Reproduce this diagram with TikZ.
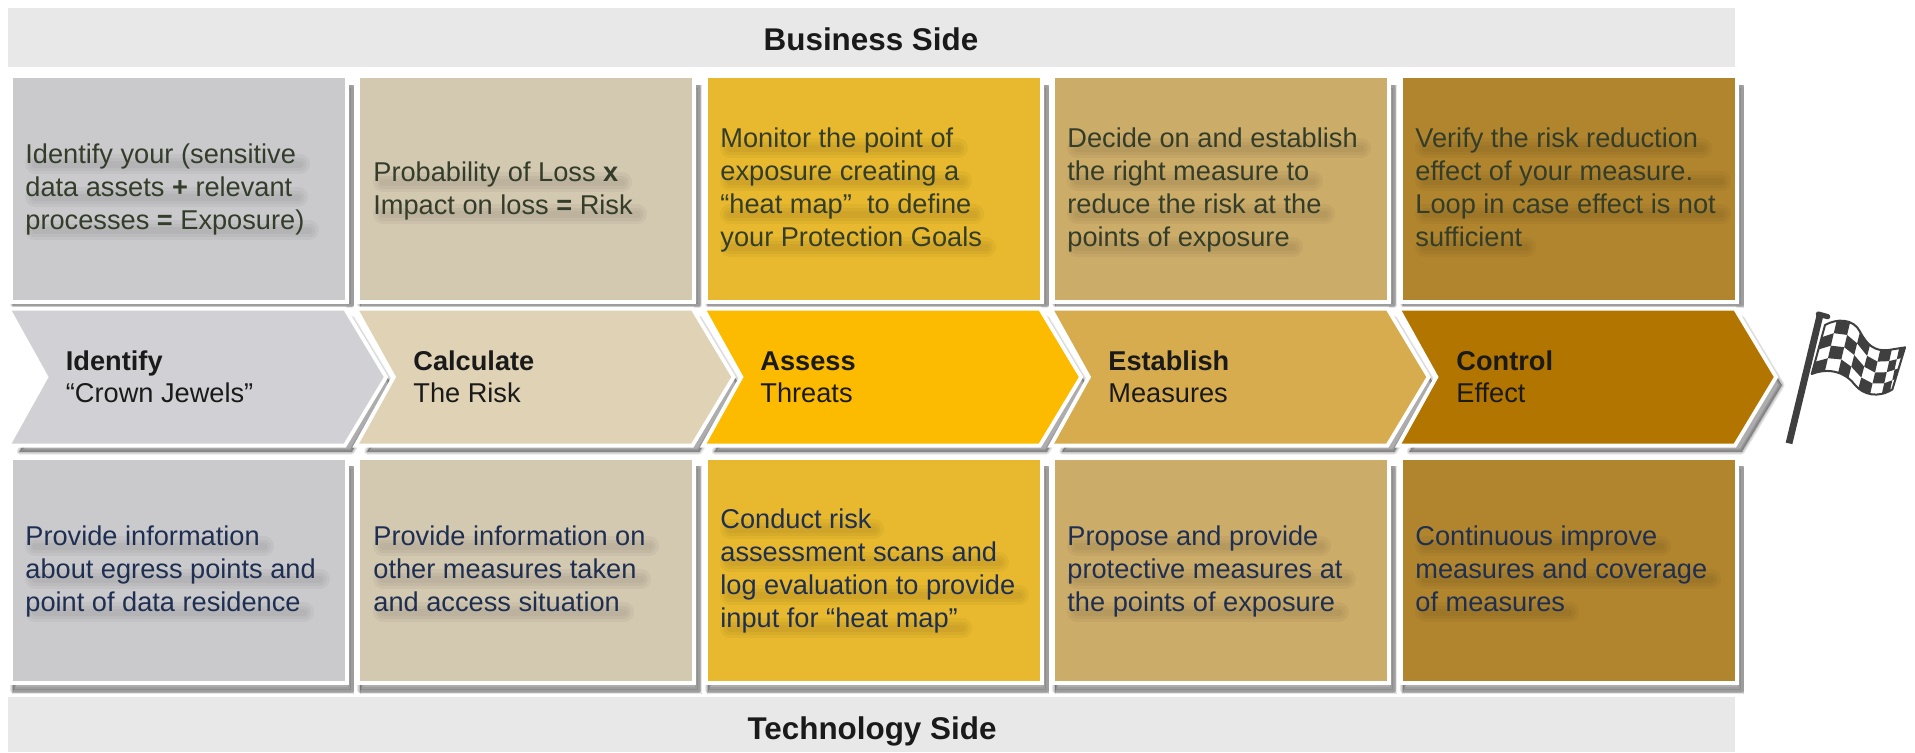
\documentclass[tikz,border=0pt]{standalone}
\usepackage{fontspec}
\setmainfont{Liberation Sans}
\definecolor{bandc}{HTML}{E8E8E8}
\definecolor{topink}{HTML}{333D2A}
\definecolor{botink}{HTML}{1F2F52}
\definecolor{arrink}{HTML}{1A1A1A}
\definecolor{flagc}{HTML}{3F3F3F}
\definecolor{ba}{HTML}{CACACD}\definecolor{bb}{HTML}{D3C8B0}\definecolor{bc}{HTML}{E8B92E}\definecolor{bd}{HTML}{CCAC69}\definecolor{be}{HTML}{B1852E}
\definecolor{aa}{HTML}{D1D1D5}\definecolor{ab}{HTML}{E0D2B4}\definecolor{ac}{HTML}{FDBB00}\definecolor{ad}{HTML}{D6AC4F}\definecolor{ae}{HTML}{B27500}
\tikzset{
  band/.style={fill=bandc,draw=none,inner sep=0,minimum width=863.5pt},
  bandtext/.style={anchor=base,inner sep=0,text=arrink,font=\fontsize{15.7}{18}\selectfont\bfseries},
  cell/.style={draw=white,line width=2pt,inner sep=0,minimum width=168.1pt,minimum height=112.8pt,anchor=north west},
  toptext/.style={anchor=north west,inner sep=0,align=left,text=topink,font=\fontsize{13.6}{16.5}\selectfont},
  bottext/.style={anchor=north west,inner sep=0,align=left,text=botink,font=\fontsize{13.6}{16.5}\selectfont},
  arrtext/.style={anchor=north west,inner sep=0,align=left,text=arrink,font=\fontsize{13.6}{16}\selectfont},
  softedge/.style={black,opacity=.09,line join=round}
}
\newcommand{\chevpath}[1]{({#1+1},310.5) -- ({#1+333},310.5) -- ({#1+373},377) -- ({#1+333},443.5) -- ({#1+1},443.5) -- ({#1+38},377) -- cycle}
\begin{document}
\begin{tikzpicture}[x=0.5pt,y=-0.5pt]
\useasboundingbox (0,0) rectangle (1915,752);
\fill[white] (0,0) rectangle (1915,752);
% bands
\node[band,anchor=north west,minimum height=29.5pt] (bandtop) at (8,8) {};
\node[band,anchor=north west,minimum height=27.5pt] (bandbot) at (8,697) {};
% shadows
\foreach \k in {0,1,2,3,4}{
  \pgfmathsetmacro{\xx}{10.7+347.5*\k}
  \foreach \w in {0,2,4,6}{
    \draw[softedge,fill=black,line width=\w*0.5pt]
      ({\xx+2},{85+\w*0.5}) rectangle ({\xx+343-\w*0.5},{299+8-\w*0.5});
    \draw[softedge,fill=black,line width=\w*0.5pt]
      ({\xx+2},{466+\w*0.5}) rectangle ({\xx+343-\w*0.5},{693-\w*0.5});
    \draw[softedge,fill=black,line width=\w*0.5pt,shift={(8,8)}] \chevpath{\xx};
  }
}
% top cells, chevrons, bottom cells
\foreach \k/\bc/\ac in {0/ba/aa,1/bb/ab,2/bc/ac,3/bd/ad,4/be/ae}{
  \pgfmathsetmacro{\xx}{10.7+347.5*\k}
  \node[cell,fill=\bc] (top\k) at ({\xx-2},74) {};
  \draw[white,line width=4pt,line join=miter] \chevpath{\xx};
  \fill[\ac] \chevpath{\xx};
  \node[cell,fill=\bc] (bot\k) at ({\xx-2},455.5) {};
}
% soft text haze
\foreach \x/\y/\l in {
 25/163/271,25/196/269,25/229/280,
 373/181/245,373/213/260,
 720/147/234,720/180/238,720/213/250,720/246/262,
 1067/147/290,1067/180/242,1067/213/254,1067/246/222,
 1415/147/283,1415/180/302,1415/213/302,1415/246/107,
 25/545/235,25/578/291,25/611/275,
 373/545/272,373/578/264,373/611/247,
 720/528/150,720/561/275,720/594/295,720/627/238,
 1067/545/250,1067/578/275,1067/611/268,
 1415/545/242,1415/578/292,1415/611/150}{
  \foreach \w in {20,13,7}{
    \draw[black,opacity=.035,line width=\w*0.5pt,line cap=round] ({\x+10},{\y+1}) -- ({\x+\l+4},{\y+1});
  }
}
% band labels
\node[bandtext] (bizlabel) at (871,50) {Business Side};
\node[bandtext] (techlabel) at (872,739) {Technology Side};
% top texts
\node[toptext] (tt0) at (25,140) {\strut Identify your (sensitive\\data assets {\bfseries +} relevant\\processes {\bfseries =} Exposure)};
\node[toptext] (tt1) at (373,158) {\strut Probability of Loss {\bfseries x}\\Impact on loss {\bfseries =} Risk};
\node[toptext] (tt2) at (720,124) {\strut Monitor the point of\\exposure creating a\\“heat map”\ \ to define\\your Protection Goals};
\node[toptext] (tt3) at (1067,124) {\strut Decide on and establish\\the right measure to\\reduce the risk at the\\points of exposure};
\node[toptext] (tt4) at (1415,124) {\strut Verify the risk reduction\\effect of your measure.\\Loop in case effect is not\\sufficient};
% chevron texts
\node[arrtext] (at0) at (65.5,347.6) {\strut{\bfseries Identify}\\“Crown Jewels”};
\node[arrtext] (at1) at (413,347.6) {\strut{\bfseries Calculate}\\The Risk};
\node[arrtext] (at2) at (760,347.6) {\strut{\bfseries Assess}\\Threats};
\node[arrtext] (at3) at (1108,347.6) {\strut{\bfseries Establish}\\Measures};
\node[arrtext] (at4) at (1456,347.6) {\strut{\bfseries Control}\\Effect};
% bottom texts
\node[bottext] (bt0) at (25,522) {\strut Provide information\\about egress points and\\point of data residence};
\node[bottext] (bt1) at (373,522) {\strut Provide information on\\other measures taken\\and access situation};
\node[bottext] (bt2) at (720,505) {\strut Conduct risk\\assessment scans and\\log evaluation to provide\\input for “heat map”};
\node[bottext] (bt3) at (1067,522) {\strut Propose and provide\\protective measures at\\the points of exposure};
\node[bottext] (bt4) at (1415,522) {\strut Continuous improve\\measures and coverage\\of measures};
% flag
\begin{scope}[shift={(1775,300)},x=0.1667pt,y=-0.1667pt]
  \draw[flagc,line width=3.4pt] (135,45) -- (42,430);
  \draw[flagc,line width=2.6pt,line cap=round] (130,42) -- (158,50);
  \filldraw[white,draw=flagc,line width=1pt,line join=round]
    (150,75) .. controls (185,55) and (235,55) .. (255,95)
    .. controls (275,135) and (300,155) .. (340,150) -- (390,142) -- (352,268)
    .. controls (310,295) and (265,285) .. (240,255)
    .. controls (215,220) and (165,200) .. (110,222) -- cycle;
  \def\tx{{150,185,225,255,285,315,350,372,390}}
  \def\ty{{75,62,68,95,135,152,150,146,142}}
  \def\bx{{110,150,190,220,250,285,320,345,352}}
  \def\by{{222,212,215,235,265,283,283,272,268}}
  \foreach \i in {0,...,7}{
    \foreach \j in {0,1,2,3}{
      \pgfmathparse{int(mod(\i+\j,2))}
      \ifnum\pgfmathresult=1
        \pgfmathsetmacro{\ii}{int(\i+1)}
        \pgfmathsetmacro{\jj}{int(\j+1)}
        \pgfmathsetmacro{\ax}{\tx[\i]+(\bx[\i]-\tx[\i])*\j/4}
        \pgfmathsetmacro{\ay}{\ty[\i]+(\by[\i]-\ty[\i])*\j/4}
        \pgfmathsetmacro{\cx}{\tx[\ii]+(\bx[\ii]-\tx[\ii])*\j/4}
        \pgfmathsetmacro{\cy}{\ty[\ii]+(\by[\ii]-\ty[\ii])*\j/4}
        \pgfmathsetmacro{\dx}{\tx[\ii]+(\bx[\ii]-\tx[\ii])*\jj/4}
        \pgfmathsetmacro{\dy}{\ty[\ii]+(\by[\ii]-\ty[\ii])*\jj/4}
        \pgfmathsetmacro{\ex}{\tx[\i]+(\bx[\i]-\tx[\i])*\jj/4}
        \pgfmathsetmacro{\ey}{\ty[\i]+(\by[\i]-\ty[\i])*\jj/4}
        \fill[flagc] (\ax,\ay) -- (\cx,\cy) -- (\dx,\dy) -- (\ex,\ey) -- cycle;
      \fi
    }
  }
\end{scope}
\end{tikzpicture}
\end{document}
